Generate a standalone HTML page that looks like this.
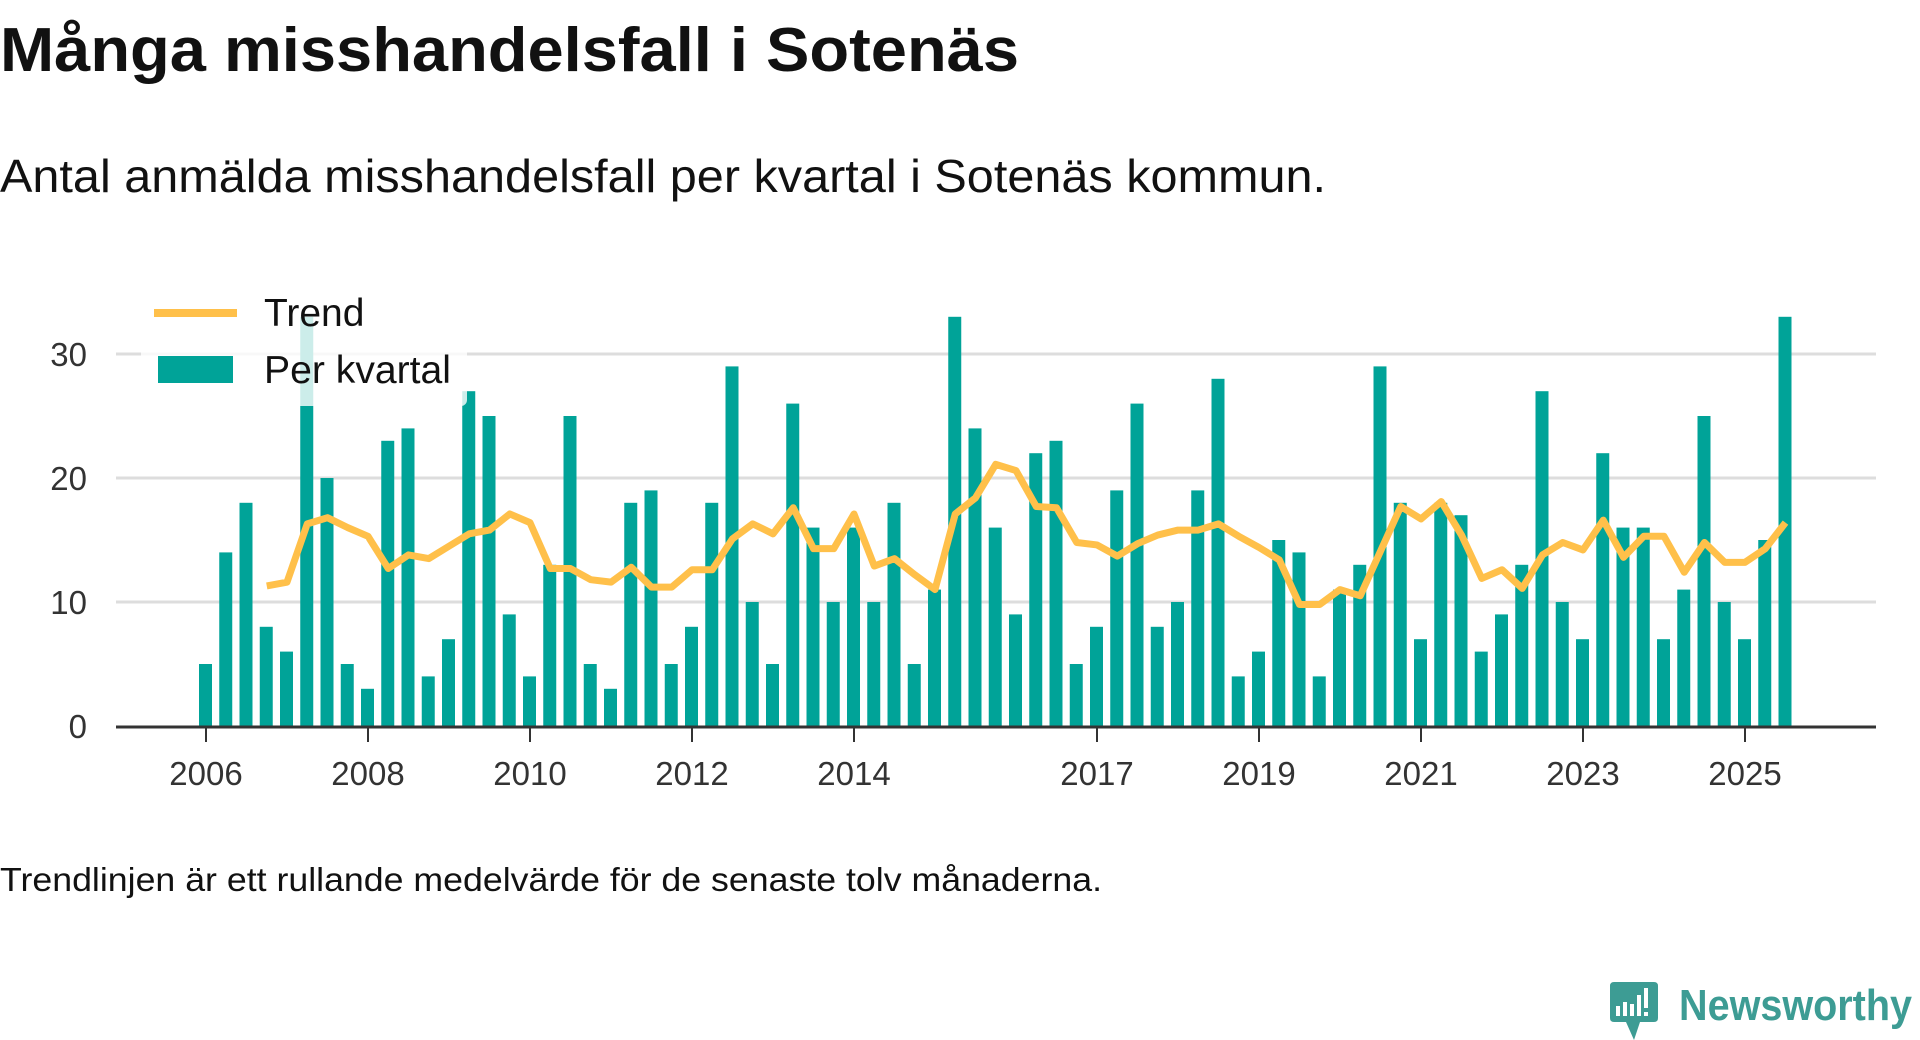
<!DOCTYPE html>
<html><head><meta charset="utf-8"><style>
html,body{margin:0;padding:0;background:#fff;}
svg{display:block;font-family:"Liberation Sans",sans-serif;}
</style></head><body>
<svg id="chart" width="1920" height="1040" viewBox="0 0 1920 1040">
<text x="0" y="71" font-size="62" font-weight="bold" fill="#111" textLength="1019" lengthAdjust="spacingAndGlyphs">Många misshandelsfall i Sotenäs</text>
<text x="0" y="192" font-size="46" fill="#111" textLength="1326" lengthAdjust="spacingAndGlyphs">Antal anmälda misshandelsfall per kvartal i Sotenäs kommun.</text>
<g id="grid"></g>
<g id="yaxis"></g>
<g id="bars"></g>
<polyline id="trend" fill="none" stroke="#ffc04a" stroke-width="7" stroke-linejoin="round"/>
<g id="xaxis"></g>
<g>
  <rect x="141" y="290" width="326" height="116" rx="6" fill="#fff" fill-opacity="0.8"/>
  <line x1="154" y1="313" x2="237" y2="313" stroke="#ffc04a" stroke-width="8"/>
  <text x="264" y="326" font-size="39" fill="#111">Trend</text>
  <rect x="158" y="356" width="75" height="27" fill="#00a398"/>
  <text x="264" y="383" font-size="39" fill="#111" textLength="187" lengthAdjust="spacingAndGlyphs">Per kvartal</text>
</g>
<text x="0" y="891" font-size="33" fill="#111" textLength="1102" lengthAdjust="spacingAndGlyphs">Trendlinjen är ett rullande medelvärde för de senaste tolv månaderna.</text>
<g>
  <path d="M1614 982 H1654 Q1658 982 1658 986 V1018 Q1658 1022 1654 1022 H1640 L1634 1040 L1626 1022 H1614 Q1610 1022 1610 1018 V986 Q1610 982 1614 982 Z" fill="#3d9c94"/>
  <rect x="1616" y="1006" width="4" height="10" fill="#fff"/>
  <rect x="1623" y="1002" width="4" height="14" fill="#fff"/>
  <rect x="1630" y="1004" width="4" height="12" fill="#fff"/>
  <rect x="1637" y="995" width="4" height="21" fill="#fff"/>
  <rect x="1644" y="988" width="4" height="20" fill="#fff"/>
  <rect x="1644" y="1012" width="4" height="4" fill="#fff"/>
  <text x="1679" y="1020" font-size="44" font-weight="bold" fill="#3d9c94" textLength="233" lengthAdjust="spacingAndGlyphs">Newsworthy</text>
</g>
</svg>
<script>
const startYear = 2006;
const perKvartal = [5,14,18,8,6,33,20,5,3,23,24,4,7,27,25,9,4,13,25,5,3,18,19,5,8,18,29,10,5,26,16,10,16,10,18,5,11,33,24,16,9,22,23,5,8,19,26,8,10,19,28,4,6,15,14,4,11,13,29,18,7,18,17,6,9,13,27,10,7,22,16,16,7,11,25,10,7,15,33];
const trendStart = 3;
const trend = [11.3,11.6,16.3,16.8,16.0,15.3,12.7,13.8,13.5,14.5,15.5,15.8,17.1,16.4,12.7,12.7,11.8,11.6,12.8,11.2,11.2,12.6,12.6,15.1,16.3,15.5,17.6,14.3,14.3,17.1,12.9,13.5,12.2,11.0,17.1,18.4,21.1,20.6,17.7,17.6,14.8,14.6,13.7,14.7,15.4,15.8,15.8,16.3,15.3,14.4,13.4,9.8,9.8,11.0,10.5,14.1,17.7,16.7,18.1,15.4,11.9,12.6,11.1,13.8,14.8,14.2,16.6,13.6,15.3,15.3,12.4,14.8,13.2,13.2,14.3,16.4];
const yTicks = [0,10,20,30];
const xTickYears = [2006,2008,2010,2012,2014,2017,2019,2021,2023,2025];

const NS = "http://www.w3.org/2000/svg";
const x0 = 206, pxPerYear = 81, y0 = 726, pxPerUnit = 12.4;
const plotL = 116, plotR = 1876;
function xq(i){ return x0 + i * pxPerYear / 4; }
function xy(year){ return x0 + (year - startYear) * pxPerYear; }
function yv(v){ return y0 - v * pxPerUnit; }
function mk(tag, attrs, parent){ const e = document.createElementNS(NS, tag); for (const k in attrs) e.setAttribute(k, attrs[k]); parent.appendChild(e); return e; }

const grid = document.getElementById('grid');
const yaxis = document.getElementById('yaxis');
yTicks.forEach(t => {
  if (t > 0) {
    const g = mk('line', {x1: plotL, x2: plotR, y1: yv(t), y2: yv(t), stroke: '#dddddd', 'stroke-width': 3}, grid);
    
    
  }
  const lab = mk('text', {x: 87, y: yv(t) + 12, 'text-anchor': 'end', 'font-size': 33, fill: '#333'}, yaxis);
  lab.textContent = t;
  
  
});

const bars = document.getElementById('bars');
perKvartal.forEach((v, i) => {
  const r = mk('rect', {x: xq(i) - 7, y: yv(v), width: 13, height: v * pxPerUnit, fill: '#00a398'}, bars);
  
  
});

document.getElementById('trend').setAttribute('points', trend.map((v, k) => xq(k + trendStart) + ',' + yv(v)).join(' '));

const xaxis = document.getElementById('xaxis');
const ax = mk('line', {x1: plotL, x2: plotR, y1: y0 + 1, y2: y0 + 1, stroke: '#333', 'stroke-width': 3}, xaxis);


xTickYears.forEach(yr => {
  const t = mk('line', {x1: xy(yr), x2: xy(yr), y1: y0, y2: y0 + 16, stroke: '#333', 'stroke-width': 2}, xaxis);
  
  
  const l = mk('text', {x: xy(yr), y: 785, 'text-anchor': 'middle', 'font-size': 33, fill: '#333'}, xaxis);
  l.textContent = yr;
  
  
});
</script>
</body></html>
